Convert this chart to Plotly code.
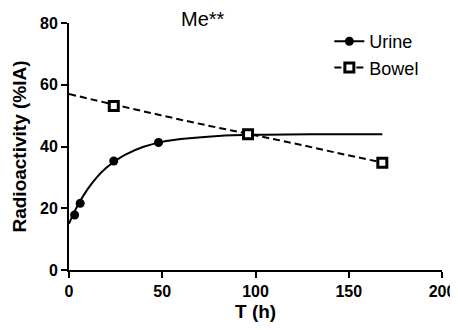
import plotly.graph_objects as go

# Observed data
urine_t = [3, 6, 24, 48]
urine_y = [17.8, 21.6, 35.3, 41.3]
bowel_t = [24, 96, 168]
bowel_y = [53.1, 44.0, 34.7]

# Fitted curves
urine_fit_t = [0, 2, 5, 10, 15, 20, 25, 30, 40, 50, 60, 80, 100, 130, 168]
urine_fit_y = [15.0, 17.7, 21.3, 26.2, 30.1, 33.1, 35.4, 37.3, 39.9, 41.5, 42.4, 43.4, 43.8, 44.0, 44.0]
bowel_fit_t = [0, 24, 48, 72, 96, 120, 144, 168]
bowel_fit_y = [57.0, 53.6, 50.3, 47.1, 44.1, 41.1, 37.9, 34.8]

x_ticks = [0, 50, 100, 150, 200]
y_ticks = [0, 20, 40, 60, 80]

FONT = "Arial, 'Liberation Sans', Helvetica, sans-serif"

fig = go.Figure()
fig.add_trace(go.Scatter(x=urine_fit_t, y=urine_fit_y, mode="lines",
                         line=dict(color="black", width=2, shape="spline"),
                         showlegend=False, hoverinfo="skip", cliponaxis=False))
fig.add_trace(go.Scatter(x=bowel_fit_t, y=bowel_fit_y, mode="lines",
                         line=dict(color="black", width=2, dash="7px,4px", shape="spline"),
                         showlegend=False, hoverinfo="skip", cliponaxis=False))
fig.add_trace(go.Scatter(x=urine_t, y=urine_y, mode="markers",
                         marker=dict(symbol="circle", size=9, color="black"),
                         showlegend=False, cliponaxis=False))
fig.add_trace(go.Scatter(x=bowel_t, y=bowel_y, mode="markers",
                         marker=dict(symbol="square", size=9, color="white",
                                     line=dict(color="black", width=3)),
                         showlegend=False, cliponaxis=False))
# legend entries
fig.add_trace(go.Scatter(x=[None], y=[None], mode="lines+markers", name="Urine",
                         line=dict(color="black", width=2),
                         marker=dict(symbol="circle", size=9, color="black")))
fig.add_trace(go.Scatter(x=[None], y=[None], mode="lines+markers", name="Bowel",
                         line=dict(color="black", width=2, dash="7px,4px"),
                         marker=dict(symbol="square", size=9, color="white",
                                     line=dict(color="black", width=3))))

axis_common = dict(showline=True, linecolor="black", linewidth=2, ticks="outside",
                   ticklen=6, tickwidth=2, tickcolor="black", showgrid=False,
                   zeroline=False, automargin=False,
                   tickfont=dict(family=FONT, size=16, color="black", weight="bold"))

# The page body has an 8px default margin, so the figure is sized to fit the window.
fig.update_layout(
    width=450, height=322,
    margin=dict(l=61, r=16, t=15, b=60),
    plot_bgcolor="white", paper_bgcolor="white",
    font=dict(family=FONT, color="black"),
    xaxis=dict(range=[0, 200], tickvals=x_ticks, ticktext=[str(v) for v in x_ticks],
               **axis_common),
    yaxis=dict(range=[0, 80], tickvals=y_ticks, ticktext=[str(v) for v in y_ticks],
               title=dict(text="<b>Radioactivity (%IA)</b>", font=dict(family=FONT, size=19),
                          standoff=8),
               **axis_common),
    legend=dict(x=0.698, y=1.0, xanchor="left", yanchor="top",
                font=dict(family=FONT, size=18, color="black"),
                bgcolor="rgba(0,0,0,0)", itemwidth=30, tracegroupgap=0),
    annotations=[
        dict(text="Me**", xref="paper", yref="paper", x=0.359, y=1.015,
             xanchor="center", yanchor="middle", showarrow=False,
             font=dict(family=FONT, size=20, color="black")),
        dict(text="<b>T (h)</b>", xref="paper", yref="paper", x=0.5, y=-0.168,
             xanchor="center", yanchor="middle", showarrow=False,
             font=dict(family=FONT, size=19, color="black")),
    ],
)

fig.write_html("out.html")
